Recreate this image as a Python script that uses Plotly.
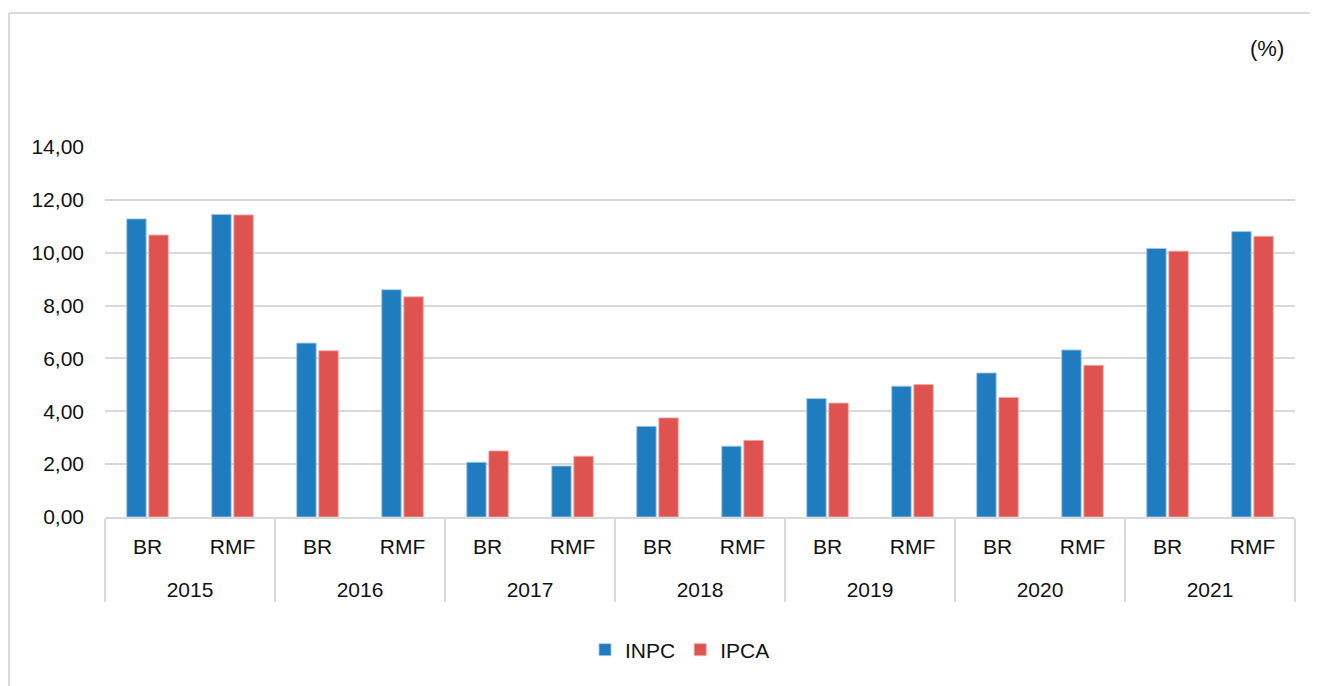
import plotly.graph_objects as go

years = ["2015", "2015", "2016", "2016", "2017", "2017", "2018", "2018",
         "2019", "2019", "2020", "2020", "2021", "2021"]
regions = ["BR", "RMF"] * 7
inpc = [11.28, 11.45, 6.58, 8.60, 2.07, 1.93, 3.43, 2.68, 4.48, 4.95, 5.45, 6.32, 10.16, 10.80]
ipca = [10.67, 11.43, 6.29, 8.33, 2.50, 2.30, 3.75, 2.90, 4.31, 5.01, 4.52, 5.74, 10.06, 10.62]
y_ticks = [0, 2, 4, 6, 8, 10, 12, 14]

# blank first line pushes the year row further below the region row
year_labels = ["<br>" + y for y in years]

FONT = "Liberation Sans, Arial, sans-serif"
BLUE = "#1F7DBF"
RED = "#DE524F"

fig = go.Figure()
fig.add_trace(go.Bar(name="INPC", x=[year_labels, regions], y=inpc,
                     marker=dict(color=BLUE, line=dict(color="rgba(160,200,235,0.9)", width=1))))
fig.add_trace(go.Bar(name="IPCA", x=[year_labels, regions], y=ipca,
                     marker=dict(color=RED, line=dict(color="rgba(240,170,170,0.9)", width=1))))

fig.update_layout(
    width=1318, height=686,
    margin=dict(l=97, r=31, t=139, b=177),
    paper_bgcolor="white", plot_bgcolor="white",
    separators=",.",
    barmode="group", bargap=0.48, bargroupgap=0.12,
    font=dict(family=FONT, size=21, color="#111111"),
    showlegend=True,
    legend=dict(orientation="h", x=(680 - 105) / 1190, xanchor="center",
                y=-(650 - 517) / 370, yanchor="middle",
                font=dict(size=21), itemwidth=30, tracegroupgap=0),
    xaxis=dict(type="multicategory", showgrid=False, showline=True,
               linecolor="#D9D9D9", linewidth=2, showdividers=True,
               dividercolor="#D9D9D9", dividerwidth=2, ticks="",
               ticklabelstandoff=10, tickfont=dict(size=21)),
    yaxis=dict(range=[0, 14], tickvals=y_ticks, tickformat=".2f",
               showgrid=True, gridcolor="#D9D9D9", gridwidth=2,
               zeroline=False, showline=False, ticks="", ticklabelstandoff=20,
               tickfont=dict(size=21)),
)

fig.add_annotation(text="(%)", xref="paper", yref="paper", x=(1286 - 105) / 1190, y=(517 - 48) / 370,
                   xanchor="right", yanchor="middle", showarrow=False,
                   font=dict(size=22, family=FONT, color="#111111"))

# outer frame (left and top edges visible)
x_left = (9 - 105) / 1190
y_top = (517 - 13) / 370
fig.add_shape(type="line", xref="paper", yref="paper", x0=x_left, x1=1.2, y0=y_top, y1=y_top,
              line=dict(color="#D9D9D9", width=2))
fig.add_shape(type="line", xref="paper", yref="paper", x0=x_left, x1=x_left, y0=y_top, y1=-1.0,
              line=dict(color="#D9D9D9", width=2))

fig.write_html("out.html")
